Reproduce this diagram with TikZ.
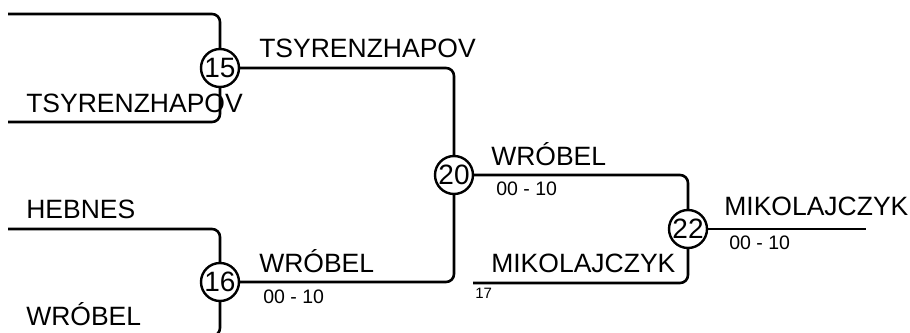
\documentclass[tikz,border=0pt]{standalone}
\usepackage{fontspec}
\setmainfont{Liberation Sans}
\begin{document}
\begin{tikzpicture}[x=1pt,y=-1pt,line width=2.6pt,
  match/.style={circle,draw,fill=white,minimum size=38pt,inner sep=0pt,line width=2.4pt,font=\fontsize{28}{28}\selectfont},
  pname/.style={anchor=base west,inner sep=0pt,font=\fontsize{26.5}{26.5}\selectfont},
  score/.style={anchor=base west,inner sep=0pt,font=\fontsize{19.5}{19.5}\selectfont},
  tiny/.style={anchor=base west,inner sep=0pt,font=\fontsize{15}{15}\selectfont},
  link/.style={rounded corners=8pt}]
\useasboundingbox (0,0) rectangle (910,332);
\clip (0,0) rectangle (910,332);
% matches
\node[match] (m15) at (220,68) {15};
\node[match] (m16) at (220,282) {16};
\node[match] (m20) at (454,175) {20};
\node[match] (m22) at (688,229) {22};
% free ends
\coordinate (s1) at (8,14);
\coordinate (s2) at (8,122);
\coordinate (s3) at (8,229);
\coordinate (s4) at (8,336);
\coordinate (s5) at (473,283);
\coordinate (w) at (866,229);
% connectors
\draw[link] (s1) -| (m15);
\draw[link] (s2) -| (m15);
\draw[link] (s3) -| (m16);
\draw[link] (s4) -| (m16);
\draw[link] (m15) -| (m20);
\draw[link] (m16) -| (m20);
\draw[link] (m20) -| (m22);
\draw[link] (s5) -| (m22);
\draw (m22) -- (w);
% labels
\node[pname] (t1) at (25,112) {TSYRENZHAPOV};
\node[pname] (t2) at (258,57) {TSYRENZHAPOV};
\node[pname] (t3) at (25,218) {HEBNES};
\node[pname] (t4) at (25,325) {WRÓBEL};
\node[pname] (t5) at (258,272) {WRÓBEL};
\node[score] (c5) at (262,303) {00 - 10};
\node[pname] (t6) at (490,165) {WRÓBEL};
\node[score] (c6) at (495,195) {00 - 10};
\node[pname] (t7) at (490,272) {MIKOLAJCZYK};
\node[tiny] (n17) at (474,298) {17};
\node[pname] (t8) at (723,215) {MIKOLAJCZYK};
\node[score] (c8) at (728,249) {00 - 10};
\end{tikzpicture}
\end{document}
